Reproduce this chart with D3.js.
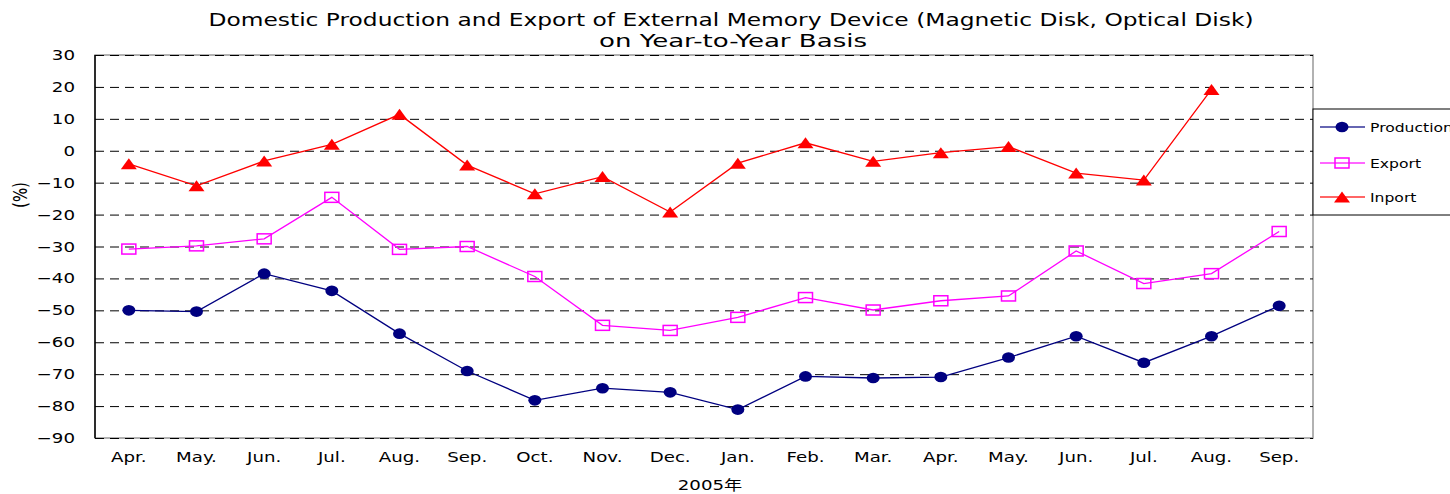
<!DOCTYPE html>
<html>
<head>
<meta charset="utf-8">
<script src="https://cdn.jsdelivr.net/npm/d3@7"></script>
<style>
  html, body { margin: 0; padding: 0; background: #fff; }
  svg { display: block; }
  text { font-family: "DejaVu Sans", "Noto Sans CJK JP", sans-serif; fill: #000; }
</style>
</head>
<body>
<svg id="chart" width="1450" height="494"></svg>
<script>
const titleLines = ["Domestic Production and Export of External Memory Device (Magnetic Disk, Optical Disk)", "on Year-to-Year Basis"];
const categories = ["Apr.","May.","Jun.","Jul.","Aug.","Sep.","Oct.","Nov.","Dec.","Jan.","Feb.","Mar.","Apr.","May.","Jun.","Jul.","Aug.","Sep."];
const production = [-50.0,-50.4,-38.5,-43.9,-57.3,-69.0,-78.2,-74.4,-75.7,-81.1,-70.7,-71.2,-70.9,-64.8,-58.1,-66.4,-58.1,-48.6];
const exportVals = [-30.8,-29.8,-27.6,-14.6,-30.9,-30.0,-39.4,-54.7,-56.3,-52.2,-46.0,-49.9,-47.0,-45.5,-31.4,-41.6,-38.5,-25.3];
const importVals = [-4.1,-11.0,-3.2,2.0,11.4,-4.5,-13.5,-8.1,-19.2,-3.9,2.5,-3.3,-0.6,1.3,-7.0,-9.2,19.2,null];
const yTicks = [30,20,10,0,-10,-20,-30,-40,-50,-60,-70,-80,-90];
const seriesNames = ["Production","Export","Inport"];
const xTitle = "2005年";
const yTitle = "(%)";

const svg = d3.select("#chart");
const SX = 1.3; // horizontal glyph stretch of the original image
const L = 95, R = 1313, T = 55, B = 438;

const x = d3.scaleBand().domain(d3.range(categories.length)).range([L, R]);
const y = d3.scaleLinear().domain([-90, 30]).range([B, T]);

function stext(parent, str, px, py, size, anchor) {
  return parent.append("text")
    .attr("transform", `translate(${px},${py}) scale(${SX},1)`)
    .attr("text-anchor", anchor || "middle")
    .style("font-size", size + "px")
    .text(str);
}

// plot border (gray)
svg.append("rect").attr("x", L).attr("y", T).attr("width", R - L).attr("height", B - T)
  .attr("fill", "none").attr("stroke", "#999").attr("stroke-width", 1.5);

// gridlines
const grid = d3.axisLeft(y).tickValues(yTicks).tickSize(-(R - L)).tickFormat("");
const gg = svg.append("g").attr("transform", `translate(${L},0)`).call(grid);
gg.select(".domain").remove();
gg.selectAll(".tick line").attr("stroke", "#000").attr("stroke-width", 1).attr("stroke-dasharray", "9,6");

// left axis line
svg.append("line").attr("x1", L).attr("x2", L).attr("y1", T).attr("y2", B).attr("stroke", "#000").attr("stroke-width", 1.5);

// y tick labels
yTicks.forEach(v => {
  stext(svg, String(v).replace("-", "−"), 75, y(v) + 5, 14, "end");
});

// x tick labels
categories.forEach((c, i) => {
  stext(svg, c, x(i) + x.bandwidth() / 2, 462, 14, "middle");
});

// titles
stext(svg, titleLines[0], 731, 26, 18, "middle").attr("textLength", 1045 / SX).attr("lengthAdjust", "spacingAndGlyphs");
stext(svg, titleLines[1], 733, 47, 18, "middle").attr("textLength", 268 / SX).attr("lengthAdjust", "spacingAndGlyphs");
stext(svg, xTitle, 710, 490, 14, "middle");
svg.append("text")
  .attr("transform", `translate(27,195) scale(${SX},1) rotate(-90)`)
  .attr("text-anchor", "middle").style("font-size", "15px").text(yTitle);

const cx = i => x(i) + x.bandwidth() / 2;
const line = d3.line().defined(d => d != null).x((d, i) => cx(i)).y(d => y(d));

const colors = ["#000080", "#FF00FF", "#FF0000"];
const data = [production, exportVals, importVals];

function marker(g, k, px, py) {
  if (k === 0) {
    g.append("ellipse").attr("cx", px).attr("cy", py).attr("rx", 6.5).attr("ry", 5.3).attr("fill", colors[0]);
  } else if (k === 1) {
    g.append("rect").attr("x", px - 7).attr("y", py - 5).attr("width", 14).attr("height", 10)
      .attr("fill", "none").attr("stroke", colors[1]).attr("stroke-width", 1.5);
  } else {
    g.append("path").attr("d", `M${px - 8},${py + 5.5}L${px + 8},${py + 5.5}L${px},${py - 5.5}Z`).attr("fill", colors[2]);
  }
}

data.forEach((vals, k) => {
  const g = svg.append("g");
  g.append("path").datum(vals).attr("d", line).attr("fill", "none").attr("stroke", colors[k]).attr("stroke-width", 1.3);
  vals.forEach((v, i) => { if (v != null) marker(g, k, cx(i), y(v)); });
});

// legend
const lg = svg.append("g");
lg.append("rect").attr("x", 1313).attr("y", 109).attr("width", 200).attr("height", 106)
  .attr("fill", "#fff").attr("stroke", "#000").attr("stroke-width", 1);
const ly = [127, 163, 197];
seriesNames.forEach((n, k) => {
  lg.append("line").attr("x1", 1320).attr("x2", 1365).attr("y1", ly[k]).attr("y2", ly[k])
    .attr("stroke", colors[k]).attr("stroke-width", 1.3).attr("opacity", 0.8);
  marker(lg, k, 1342, ly[k]);
  stext(lg, n, 1370, ly[k] + 4.5, 12, "start");
});
</script>
</body>
</html>
